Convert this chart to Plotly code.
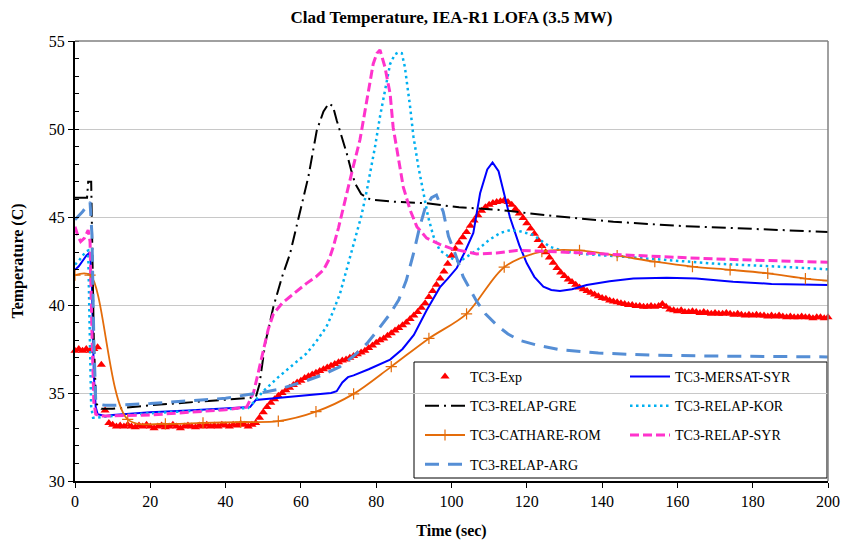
import plotly.graph_objects as go

# ---------------- data ----------------
time_exp = list(range(0, 201))
tc3_exp = [
    37.4, 37.5, 37.4, 37.5, 37.4, 37.5, 37.6, 36.6, 34.0, 33.3,
    33.2, 33.1, 33.15, 33.1, 33.2, 33.1, 33.05, 33.15, 33.1, 33.2,
    33.1, 33.0, 33.1, 33.15, 33.05, 33.1, 33.2, 33.1, 33.0, 33.1,
    33.15, 33.1, 33.05, 33.15, 33.1, 33.2, 33.1, 33.15, 33.1, 33.2,
    33.15, 33.1, 33.2, 33.15, 33.25, 33.2, 33.1, 33.2, 33.3, 33.6,
    33.9, 34.2, 34.45, 34.65, 34.85, 35.0, 35.15, 35.3, 35.45, 35.6,
    35.7, 35.85, 35.95, 36.05, 36.15, 36.25, 36.35, 36.45, 36.55, 36.65,
    36.75, 36.85, 36.9, 37.0, 37.1, 37.2, 37.3, 37.4, 37.55, 37.7,
    37.85, 38.0, 38.1, 38.25, 38.4, 38.55, 38.7, 38.85, 39.0, 39.2,
    39.4, 39.6, 39.85, 40.1, 40.45, 40.8, 41.15, 41.5, 41.9, 42.35,
    42.8, 43.2, 43.55, 43.85, 44.15, 44.5, 44.8, 45.1, 45.35, 45.55,
    45.7, 45.8, 45.85, 45.9, 45.95, 45.85, 45.7, 45.45, 45.2, 44.95,
    44.65, 44.35, 44.05, 43.7, 43.35, 43.0, 42.7, 42.4, 42.1, 41.85,
    41.65, 41.45, 41.3, 41.15, 41.0, 40.9, 40.8, 40.7, 40.6, 40.5,
    40.4, 40.35, 40.25, 40.2, 40.15, 40.1, 40.05, 40.0, 40.0, 39.95,
    39.95, 39.9, 39.9, 39.95, 39.9, 39.95, 40.05, 39.9, 39.75, 39.7,
    39.65, 39.7, 39.6, 39.6, 39.65, 39.6, 39.55, 39.6, 39.55, 39.5,
    39.55, 39.5, 39.5, 39.55, 39.5, 39.45, 39.5, 39.45, 39.4, 39.45,
    39.4, 39.45, 39.4, 39.4, 39.35, 39.4, 39.35, 39.4, 39.35, 39.3,
    39.35, 39.3, 39.3, 39.35, 39.3, 39.3, 39.25, 39.3, 39.3, 39.25,
    39.3,
]

time_mersat = [0, 1, 2, 3, 4, 4.5, 5, 5.5, 6, 8, 10, 20, 30, 40, 46.5, 48,
               55, 62, 68, 69.5, 71, 72.5, 74, 78, 83.7, 87, 90, 93.4, 96.9,
               99, 101.4, 103.5, 105.8, 107.6, 109.5, 110.9, 112.5, 115.5,
               118, 120, 122, 124.4, 126.5, 128.8, 132, 135.9, 142, 148.3,
               157.2, 165, 174.8, 185, 200]
tc3_mersat = [42.0, 42.2, 42.5, 42.8, 43.0, 41.0, 36.0, 34.2, 33.8, 33.7,
              33.75, 33.9, 34.0, 34.1, 34.2, 34.6, 34.75, 34.9, 35.0, 35.1,
              35.6, 35.9, 36.0, 36.35, 36.9, 37.5, 38.3, 39.7, 41.0, 41.5,
              42.1, 43.0, 44.1, 46.35, 47.7, 48.1, 47.6, 45.0, 43.4, 42.37,
              41.6, 41.04, 40.85, 40.8, 40.9, 41.14, 41.35, 41.5, 41.55,
              41.5, 41.32, 41.2, 41.14]

time_gre = [0, 3.2, 3.5, 4.3, 5.0, 5.6, 7, 10, 20, 30, 40, 47, 48, 49, 50.5,
            52.7, 55, 57.1, 60.2, 62, 64.2, 66, 67.4, 68.5, 69.5, 71, 72.2,
            73.3, 74.4, 76, 78.4, 84.5, 93.4, 102, 113, 125, 143, 160, 175,
            200]
tc3_gre = [46.1, 46.1, 47.0, 47.0, 38.0, 34.4, 34.1, 34.1, 34.3, 34.45,
           34.6, 34.7, 34.75, 35.5, 37.8, 39.9, 41.6, 42.9, 45.6, 47.3, 49.9,
           51.0, 51.45, 51.3, 50.5, 49.5, 48.6, 47.7, 46.9, 46.3, 46.0,
           45.87, 45.78, 45.55, 45.4, 45.1, 44.73, 44.5, 44.36, 44.15]

time_kor = [0, 1, 2, 3, 3.5, 3.9, 4.3, 4.8, 6, 8, 10, 20, 30, 40, 46, 48, 50,
            54, 58.9, 61.5, 64, 66.8, 68.5, 70.4, 72, 73.5, 75, 76.1, 77.5,
            78.8, 79.7, 81, 82.3, 83.7, 85, 85.9, 86.8, 87.6, 89, 89.9, 91.2,
            92.5, 93.8, 95.2, 96.9, 99.6, 101.5, 103, 106.7, 110, 113, 115.5,
            118, 121.7, 126.2, 130, 135, 145, 157.2, 170, 185, 200]
tc3_kor = [42.3, 42.5, 42.8, 43.05, 43.1, 38.5, 34.2, 33.6, 33.6, 33.65,
           33.7, 33.85, 33.95, 34.05, 34.15, 34.6, 35.1, 35.9, 36.8, 37.25,
           37.9, 38.77, 39.6, 40.66, 41.9, 43.1, 44.3, 45.1, 46.5, 47.86,
           49.0, 50.7, 52.2, 53.7, 54.25, 54.35, 54.3, 53.54, 51.27, 49.56,
           47.86, 46.35, 45.0, 43.9, 43.1, 42.7, 42.5, 42.6, 43.1, 43.7,
           44.1, 44.25, 44.2, 43.98, 43.3, 43.05, 42.9, 42.75, 42.56, 42.35,
           42.2, 42.03]

time_cathare = [0, 4, 14, 24, 34, 44, 54, 64, 74, 84, 94, 104, 114, 124, 134,
                144, 154, 164, 174, 184, 194, 200]
tc3_cathare = [41.7, 41.7, 33.5, 33.25, 33.3, 33.35, 33.4, 33.94, 34.95,
               36.5, 38.1, 39.5, 42.15, 43.03, 43.1, 42.8, 42.46, 42.18,
               42.0, 41.8, 41.5, 41.38]

time_syr = [0, 0.8, 1.5, 2.5, 3.5, 4.0, 4.5, 5.0, 5.5, 6.5, 8, 10, 20, 30,
            40, 45.6, 47.4, 48.5, 50, 51.3, 52.7, 55, 57.1, 61.5, 64, 66,
            67.5, 68.6, 70, 71.3, 72.6, 73.9, 75.7, 76.6, 77.9, 79.2, 80.2,
            81, 82.3, 83.7, 84.5, 85.9, 87.2, 89, 90.8, 93.4, 96.9, 100,
            106.7, 112, 117.3, 125, 139.4, 150, 166, 180, 200]
tc3_syr = [44.45, 43.9, 43.6, 43.8, 44.26, 43.6, 38.5, 34.5, 33.8, 33.7,
           33.7, 33.7, 33.75, 33.9, 34.05, 34.2, 35.0, 36.0, 37.4, 38.6, 39.5,
           40.1, 40.47, 41.23, 41.6, 41.99, 42.6, 43.3, 44.4, 45.6, 46.7,
           47.86, 49.4, 50.5, 52.2, 53.7, 54.3, 54.49, 53.54, 52.0, 50.1,
           48.24, 46.7, 45.4, 44.45, 43.8, 43.45, 43.2, 42.9, 42.95, 43.1,
           43.05, 42.9, 42.8, 42.65, 42.55, 42.43]

time_arg = [0, 2, 4, 4.5, 5, 5.5, 6.5, 8, 10, 20, 30, 40, 45.6, 49, 54, 58,
            61.5, 66, 70.4, 74, 77.5, 80.5, 83.7, 86, 88, 90, 91.5, 93, 94.7,
            96, 97.8, 99.2, 101, 103.1, 106.7, 109, 112, 115, 118, 123, 129,
            139, 153, 170, 200]
tc3_arg = [44.85, 45.3, 45.85, 44.0, 38.0, 34.6, 34.35, 34.3, 34.3, 34.4,
           34.55, 34.7, 34.9, 35.0, 35.2, 35.45, 35.7, 36.05, 36.5, 37.1,
           37.8, 38.6, 39.5, 40.3, 41.4, 43.0, 44.4, 45.5, 46.1, 46.25, 45.3,
           43.9, 42.9, 41.6, 40.2, 39.5, 38.86, 38.35, 38.0, 37.7, 37.45,
           37.27, 37.15, 37.1, 37.05]

x_ticks = [0, 20, 40, 60, 80, 100, 120, 140, 160, 180, 200]
y_ticks = [30, 35, 40, 45, 50, 55]

FONT = "Liberation Serif"

# ---------------- figure ----------------
fig = go.Figure()

fig.add_trace(go.Scatter(
    x=time_exp, y=tc3_exp, name="TC3-Exp", mode="markers",
    marker=dict(symbol="triangle-up", size=8, color="#FF0000"),
    cliponaxis=False, legend="legend", legendgroup="a"))
fig.add_trace(go.Scatter(
    x=time_mersat, y=tc3_mersat, name="TC3-MERSAT-SYR", mode="lines",
    line=dict(color="#0000FF", width=2),
    legend="legend2", legendgroup="b"))
fig.add_trace(go.Scatter(
    x=time_gre, y=tc3_gre, name="TC3-RELAP-GRE", mode="lines",
    line=dict(color="#000000", width=2, dash="14px,5px,2px,5px"),
    legend="legend", legendgroup="c"))
fig.add_trace(go.Scatter(
    x=time_kor, y=tc3_kor, name="TC3-RELAP-KOR", mode="lines",
    line=dict(color="#00B0F0", width=2.5, dash="2.5px,3.5px"),
    legend="legend2", legendgroup="d"))
fig.add_trace(go.Scatter(
    x=time_cathare, y=tc3_cathare, name="TC3-CATHARE-ROM",
    mode="lines+markers",
    line=dict(color="#E46C0A", width=1.8, shape="spline", smoothing=0.9),
    marker=dict(symbol="cross-thin", size=8, color="#E46C0A",
                line=dict(color="#E46C0A", width=1.2)),
    legend="legend", legendgroup="e"))
fig.add_trace(go.Scatter(
    x=time_syr, y=tc3_syr, name="TC3-RELAP-SYR", mode="lines",
    line=dict(color="#FF33CC", width=3, dash="9px,4px"),
    legend="legend2", legendgroup="f"))
fig.add_trace(go.Scatter(
    x=time_arg, y=tc3_arg, name="TC3-RELAP-ARG", mode="lines",
    line=dict(color="#558ED5", width=3, dash="14px,9px"),
    legend="legend", legendgroup="g"))

L, R, T, B = 75, 15, 41, 64
W, H = 843, 545
pw, ph = W - L - R, H - T - B


def px_x(p):
    return (p - L) / pw


def px_y(p):
    return (H - B - p) / ph


legend_common = dict(
    bgcolor="rgba(0,0,0,0)", borderwidth=0, orientation="v",
    font=dict(family=FONT, size=14, color="#000000"),
    tracegroupgap=8, itemwidth=40, xanchor="left", yanchor="top",
)

fig.update_layout(
    width=W, height=H,
    margin=dict(l=L, r=R, t=T, b=B, autoexpand=False),
    paper_bgcolor="white", plot_bgcolor="white",
    font=dict(family=FONT, size=16, color="#000000"),
    title=dict(text="<b>Clad Temperature, IEA-R1 LOFA (3.5 MW)</b>",
               font=dict(family=FONT, size=17, color="#000000"),
               x=0.5, xref="paper", xanchor="center",
               y=1 - 17 / H, yref="container", yanchor="middle"),
    legend=dict(x=px_x(420), y=px_y(361), **legend_common),
    legend2=dict(x=px_x(625), y=px_y(361), **legend_common),
    xaxis=dict(range=[0, 200], tickvals=x_ticks, showgrid=False,
               zeroline=False, showline=True, linecolor="#000000",
               linewidth=2, ticks="outside", ticklen=5, tickcolor="#000000",
               tickwidth=1,
               title=dict(text="<b>Time (sec)</b>",
                          font=dict(family=FONT, size=16), standoff=16),
               tickfont=dict(family=FONT, size=16)),
    yaxis=dict(range=[30, 55], tickvals=y_ticks, showgrid=True,
               gridcolor="#C8C8C8", gridwidth=1, zeroline=False,
               showline=True, linecolor="#000000", linewidth=2,
               ticks="outside", ticklen=5, tickcolor="#000000", tickwidth=1,
               minor=dict(dtick=1, ticks="inside", ticklen=4,
                          tickcolor="#000000", showgrid=False),
               title=dict(text="<b>Temperature (C)</b>",
                          font=dict(family=FONT, size=16), standoff=21),
               tickfont=dict(family=FONT, size=16)),
    showlegend=True,
)

# legend frame (white box) and the thin top/right plot border
fig.add_shape(type="rect", xref="paper", yref="paper",
              x0=px_x(414), x1=px_x(827), y0=px_y(478), y1=px_y(362),
              line=dict(color="#000000", width=1), fillcolor="white",
              layer="between")
fig.add_shape(type="line", xref="paper", yref="paper", x0=0, x1=1, y0=1,
              y1=1, line=dict(color="#808080", width=1.5), layer="above")
fig.add_shape(type="line", xref="paper", yref="paper", x0=1, x1=1, y0=0,
              y1=1, line=dict(color="#808080", width=1.5), layer="above")

fig.write_html("out.html",
               config={"displayModeBar": False},
               post_script="document.body.style.margin='0px';"
                           "document.body.style.overflow='hidden';")
